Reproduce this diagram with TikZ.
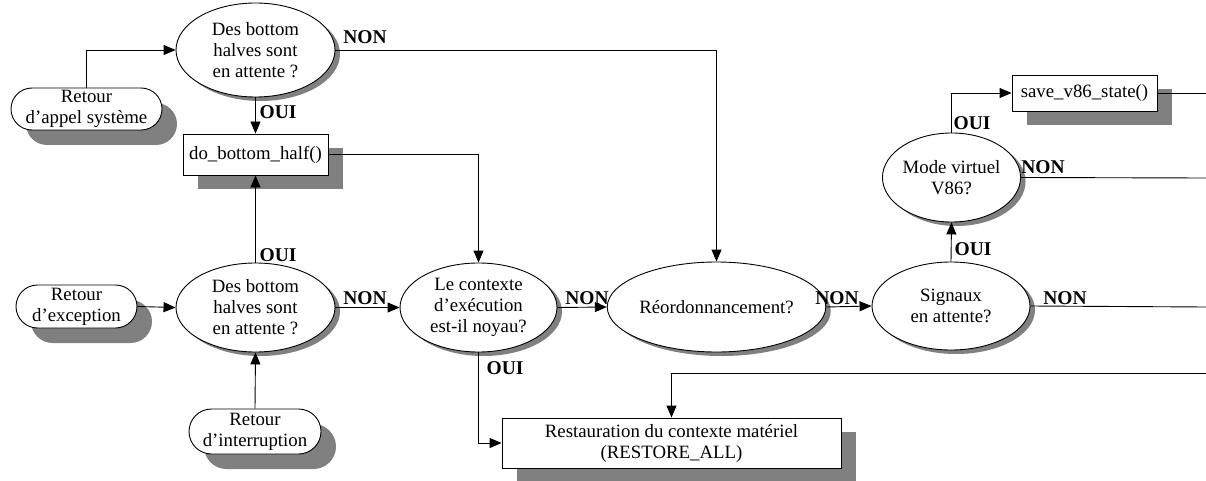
\documentclass[tikz,border=0pt]{standalone}
\usepackage{fontspec}
\setmainfont{Liberation Serif}
\usetikzlibrary{shapes.geometric,shapes.misc,shadows,arrows.meta}
\definecolor{shadowgray}{HTML}{808080}
\tikzset{
  base/.style={draw=black,line width=0.9pt,fill=white,inner sep=0pt,align=center,
    font=\fontsize{18.8}{21}\selectfont},
  dec/.style={base,ellipse,drop shadow={shadow xshift=5pt,shadow yshift=-4pt,fill=shadowgray,opacity=1}},
  term/.style={base,rounded rectangle,drop shadow={shadow xshift=15pt,shadow yshift=-15pt,fill=shadowgray,opacity=1}},
  proc/.style={base,rectangle,drop shadow={shadow xshift=15pt,shadow yshift=-14pt,fill=shadowgray,opacity=1}},
  lab/.style={font=\fontsize{19.5}{21}\selectfont\bfseries,inner sep=0pt},
  conn/.style={draw=black,line width=0.9pt},
  arr/.style={conn,-{Triangle[length=12pt,width=10pt]}}
}
\begin{document}
\begin{tikzpicture}[x=1pt,y=-1pt]
\useasboundingbox (0,0) rectangle (1206,481);
% decisions
\node[dec,minimum width=159pt,minimum height=94pt] (top) at (255.5,50) {Des bottom\\halves sont\\en attente ?};
\node[dec,minimum width=159pt,minimum height=89pt] (bot) at (255.5,307.5) {Des bottom\\halves sont\\en attente ?};
\node[dec,minimum width=157pt,minimum height=89pt] (ctx) at (478.5,307.5) {Le contexte\\d'exécution\\est-il noyau?};
\node[dec,minimum width=187pt,minimum height=90pt] (reord) at (716.5,307) {Réordonnancement?};
\node[dec,minimum width=158pt,minimum height=88pt] (sig) at (951,306) {Signaux\\en attente?};
\node[dec,minimum width=121pt,minimum height=89pt] (mode) at (951.5,177.5) {Mode virtuel\\V86?};
% terminals
\node[term,minimum width=151pt,minimum height=42pt] (rap) at (86.5,109) {Retour\\d'appel système};
\node[term,minimum width=121pt,minimum height=43pt] (exc) at (76.5,306.5) {Retour\\d'exception};
\node[term,minimum width=132pt,minimum height=45pt] (intr) at (255,431.5) {Retour\\d'interruption};
% processes
\node[proc,minimum width=145pt,minimum height=41pt] (dbh) at (255.5,154.5) {do\_bottom\_half()};
\node[proc,minimum width=145pt,minimum height=36pt] (save) at (1084.5,93) {save\_v86\_state()};
\node[proc,minimum width=339pt,minimum height=50pt] (rest) at (671.5,443) {Restauration du contexte matériel\\(RESTORE\_ALL)};
% free ends
\coordinate (eSave) at (1206,93);
\coordinate (eMode) at (1206,178);
\coordinate (eSig) at (1206,307);
\coordinate (eRest) at (1206,373);
% connectors
\draw[arr] (rap.north) |- (top.west);
\draw[arr] (top.east) -| (reord.north);
\draw[arr] (top.south) -- (dbh.north);
\draw[arr] (dbh.east) -| (ctx.north);
\draw[arr] (bot.north) -- (dbh.south);
\draw[arr] (exc.east) -- (bot.west);
\draw[arr] (intr.north) -- (bot.south);
\draw[arr] (bot.east) -- (ctx.west);
\draw[arr] (ctx.east) -- (reord.west);
\draw[arr] (ctx.south) |- (rest.west);
\draw[arr] (eRest) -| (rest.north);
\draw[arr] (reord.east) -- (sig.west);
\draw[conn] (sig.east) -- (eSig);
\draw[arr] (sig.north) -- (mode.south);
\draw[conn] (mode.east) -- (eMode);
\draw[arr] (mode.north) |- (save.west);
\draw[conn] (save.east) -- (eSave);
% labels
\node[lab] (l1) at (365,37) {NON};
\node[lab] (l2) at (278,112) {OUI};
\node[lab] (l3) at (278,255) {OUI};
\node[lab] (l4) at (365,298) {NON};
\node[lab] (l5) at (587,298) {NON};
\node[lab] (l6) at (505,368) {OUI};
\node[lab] (l7) at (837,298) {NON};
\node[lab] (l8) at (973,249) {OUI};
\node[lab] (l9) at (1065,298) {NON};
\node[lab] (l10) at (1043,167) {NON};
\node[lab] (l11) at (972,123) {OUI};
\end{tikzpicture}
\end{document}
